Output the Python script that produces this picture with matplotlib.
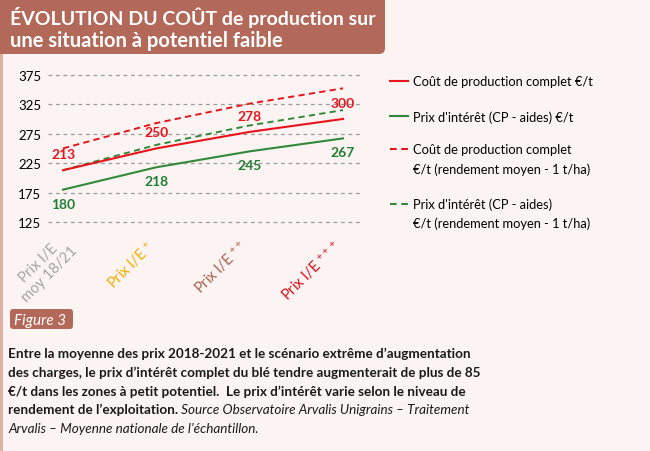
import matplotlib
matplotlib.use("Agg")
import matplotlib.pyplot as plt
import matplotlib.transforms as mtransforms
from matplotlib.patches import FancyBboxPatch, Rectangle
from matplotlib.lines import Line2D

# --- données ---
scenarios = ["Prix I/E\nmoy 18/21", "Prix I/E $^{+}$", "Prix I/E $^{++}$", "Prix I/E $^{+++}$"]
scenario_colors = ["#a3a3a3", "#f2ac00", "#a8604f", "#d0101e"]
cout_complet = [213, 250, 278, 300]
prix_interet = [180, 218, 245, 267]
cout_complet_rdt = [250, 293, 326, 352]
prix_interet_rdt = [213, 256, 289, 315]
y_ticks = [125, 175, 225, 275, 325, 375]

legend_labels = [
    ["Coût de production complet €/t"],
    ["Prix d'intérêt (CP - aides) €/t"],
    ["Coût de production complet", "€/t (rendement moyen - 1 t/ha)"],
    ["Prix d'intérêt (CP - aides)", "€/t (rendement moyen - 1 t/ha)"],
]

caption_bold = [
    "Entre la moyenne des prix 2018-2021 et le scénario extrême d’augmentation",
    "des charges, le prix d’intérêt complet du blé tendre augmenterait de plus de 85",
    "€/t dans les zones à petit potentiel.  Le prix d’intérêt varie selon le niveau de",
    "rendement de l’exploitation.",
]
caption_italic = [
    " Source Observatoire Arvalis Unigrains – Traitement",
    "Arvalis – Moyenne nationale de l’échantillon.",
]

RED = "#e8141c"
GREEN = "#33893a"
GREEN_TXT = "#1f7d34"
BROWN = "#b3695a"
BG = "#fbf4f2"
INK = "#1a1a1a"

W, H = 650, 452
plt.rcParams["font.family"] = ["Lato", "DejaVu Sans"]
plt.rcParams["mathtext.fontset"] = "custom"
plt.rcParams["mathtext.rm"] = "Lato"
plt.rcParams["mathtext.default"] = "regular"


def fx(x):
    return x / W


def fy(y):
    return 1 - y / H


def main():
    fig = plt.figure(figsize=(6.5, 4.52), dpi=100, facecolor=BG)

    # bord gauche
    fig.add_artist(Rectangle((0, 0), 3 / W, 1, transform=fig.transFigure,
                             facecolor="#dcb0a5", edgecolor="none"))

    # --- bandeau titre ---
    fig.add_artist(FancyBboxPatch((-0.2, (H - 55) / 100), 4.05, 1.0,
                                  boxstyle="round,pad=0,rounding_size=0.06",
                                  transform=fig.dpi_scale_trans,
                                  facecolor=BROWN, edgecolor="none"))
    fig.text(fx(10), fy(25), "ÉVOLUTION DU COÛT de production sur", color="white",
             fontsize=14, fontweight="bold", va="baseline")
    fig.text(fx(10), fy(47), "une situation à potentiel faible", color="white",
             fontsize=14.5, fontweight="bold", va="baseline")

    # --- graphique ---
    ax = fig.add_axes([fx(48), fy(226), (363 - 48) / W, (226 - 72.8) / H])
    ax.set_facecolor("none")
    x = list(range(len(scenarios)))

    ax.plot(x, cout_complet_rdt, color=RED, lw=1.4, ls=(0, (3.2, 2.2)))
    ax.plot(x, prix_interet_rdt, color=GREEN, lw=1.4, ls=(0, (3.2, 2.2)))
    ax.plot(x, cout_complet, color=RED, lw=1.5)
    ax.plot(x, prix_interet, color=GREEN, lw=1.5)

    for xi, v in zip(x, cout_complet):
        ax.annotate(str(v), (xi, v), xytext=(0, 11.5), textcoords="offset points",
                    ha="center", va="center", color=RED, fontsize=10, fontweight="bold")
    for xi, v in zip(x, prix_interet):
        ax.annotate(str(v), (xi, v), xytext=(0, -10), textcoords="offset points",
                    ha="center", va="center", color=GREEN_TXT, fontsize=10, fontweight="bold")

    ax.set_xlim(-0.161, 3.214)
    ax.set_ylim(120, 380)
    ax.set_yticks(y_ticks)
    ax.yaxis.grid(True, color="#9a9a9a", lw=0.9, ls=(0, (3, 3)))
    ax.tick_params(axis="y", length=0, pad=5, labelsize=9.5)
    for s in ax.spines.values():
        s.set_visible(False)

    ax.set_xticks(x)
    ax.set_xticklabels(scenarios, rotation=45, ha="right", fontsize=10.5,
                       multialignment="center")
    ax.tick_params(axis="x", length=0, pad=8.5)
    shifts = [(17, 5), (1, 0), (1, 0), (1, 0)]
    for lbl, col, (dx, dy) in zip(ax.get_xticklabels(), scenario_colors, shifts):
        lbl.set_color(col)
        lbl.set_transform(lbl.get_transform() +
                          mtransforms.ScaledTranslation(dx / 100, dy / 100, fig.dpi_scale_trans))

    # --- légende ---
    styles = [(RED, "-"), (GREEN, "-"), (RED, (0, (3.2, 2.2))), (GREEN, (0, (3.2, 2.2)))]
    rows = [82, 117, 150, 205]
    for (col, ls), yy, lines in zip(styles, rows, legend_labels):
        fig.add_artist(Line2D([fx(390), fx(408)], [fy(yy), fy(yy)], color=col, lw=1.5,
                              ls=ls, transform=fig.transFigure))
        for k, lab in enumerate(lines):
            fig.text(fx(413), fy(yy + 4.5 + k * 19), lab, fontsize=9.3, va="baseline")

    # --- Figure 3 ---
    fig.add_artist(FancyBboxPatch((10 / 100, (H - 330) / 100), 0.63, 0.2,
                                  boxstyle="round,pad=0,rounding_size=0.03",
                                  transform=fig.dpi_scale_trans,
                                  facecolor=BROWN, edgecolor="none"))
    fig.text(fx(14), fy(325), "Figure 3", color="white", fontsize=11,
             fontstyle="italic", va="baseline")

    # --- légende texte ---
    base = 358
    step = 18.8
    fs = 9.7
    for i, line in enumerate(caption_bold):
        t = fig.text(fx(8), fy(base + i * step), line, fontsize=fs,
                     fontweight="bold", va="baseline", color=INK)
    ax.annotate(caption_italic[0], xy=(1, 0), xycoords=t, va="bottom", ha="left",
                fontsize=fs, fontstyle="italic", color=INK, annotation_clip=False)
    fig.text(fx(8), fy(base + 4 * step), caption_italic[1], fontsize=fs,
             fontstyle="italic", va="baseline", color=INK)

    fig.savefig("out.png", dpi=100, facecolor=BG)
    plt.close(fig)


if __name__ == "__main__":
    main()
